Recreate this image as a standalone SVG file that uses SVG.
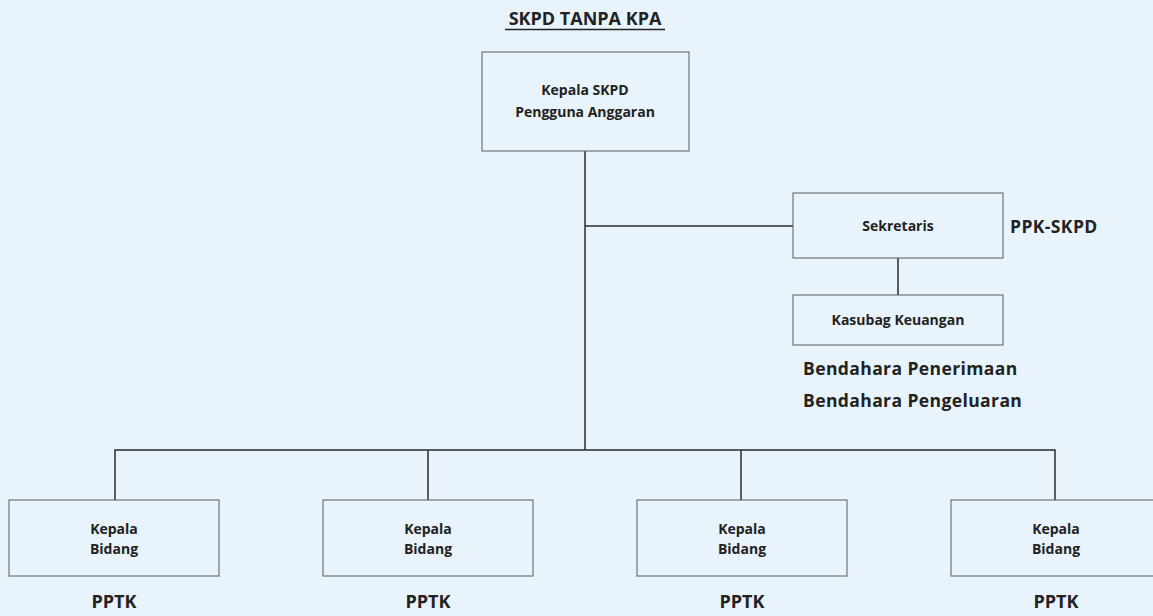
<svg xmlns="http://www.w3.org/2000/svg" width="1153" height="616" viewBox="0 0 1153 616">
<style>
.bg{fill:#e9f3fb}
.box{fill:none;stroke:#5a5a5a;stroke-width:1}
.ln{fill:none;stroke:#2a2a2a;stroke-width:1.5}
text{font-family:"Open Sans","Liberation Sans",sans-serif;font-weight:bold;fill:#222}
.s{font-size:14px;text-anchor:middle}
.b{font-size:17.5px;letter-spacing:0.4px}
.t{font-size:18px;text-anchor:middle}
</style>
<rect class="bg" x="0" y="0" width="1153" height="616"/>
<text x="585" y="25" class="t">SKPD TANPA KPA</text>
<line x1="505" y1="29.5" x2="665" y2="29.5" stroke="#222" stroke-width="1.5"/>
<g id="connectors">
<line class="ln" x1="585" y1="151" x2="585" y2="450"/>
<line class="ln" x1="585" y1="226" x2="793" y2="226"/>
<line class="ln" x1="898" y1="258" x2="898" y2="295"/>
<polyline class="ln" points="115,500 115,450 1055,450 1055,500"/>
<line class="ln" x1="428" y1="450" x2="428" y2="500"/>
<line class="ln" x1="741" y1="450" x2="741" y2="500"/>
</g>
<g id="kepala-skpd">
<rect class="box" x="482" y="52" width="207" height="99"/>
<text x="585" y="95" class="s">Kepala SKPD</text>
<text x="585" y="117" class="s">Pengguna Anggaran</text>
</g>
<g id="sekretaris">
<rect class="box" x="793" y="193" width="210" height="65"/>
<text x="898" y="231" class="s">Sekretaris</text>
<text x="1010" y="233" class="b">PPK-SKPD</text>
</g>
<g id="kasubag">
<rect class="box" x="793" y="295" width="210" height="50"/>
<text x="898" y="325" class="s">Kasubag Keuangan</text>
<text x="803" y="375" class="b">Bendahara Penerimaan</text>
<text x="803" y="407" class="b">Bendahara Pengeluaran</text>
</g>
<g id="bidang1">
<rect class="box" x="9" y="500" width="210" height="76"/>
<text x="114" y="534" class="s">Kepala</text>
<text x="114" y="554" class="s">Bidang</text>
<text x="114" y="608" class="t">PPTK</text>
</g>
<g id="bidang2">
<rect class="box" x="323" y="500" width="210" height="76"/>
<text x="428" y="534" class="s">Kepala</text>
<text x="428" y="554" class="s">Bidang</text>
<text x="428" y="608" class="t">PPTK</text>
</g>
<g id="bidang3">
<rect class="box" x="637" y="500" width="210" height="76"/>
<text x="742" y="534" class="s">Kepala</text>
<text x="742" y="554" class="s">Bidang</text>
<text x="742" y="608" class="t">PPTK</text>
</g>
<g id="bidang4">
<rect class="box" x="951" y="500" width="210" height="76"/>
<text x="1056" y="534" class="s">Kepala</text>
<text x="1056" y="554" class="s">Bidang</text>
<text x="1056" y="608" class="t">PPTK</text>
</g>
</svg>
